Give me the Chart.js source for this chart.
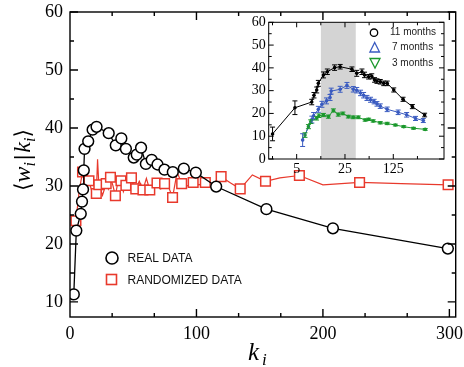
<!DOCTYPE html>
<html><head><meta charset="utf-8">
<script src="https://cdn.jsdelivr.net/npm/chart.js@4/dist/chart.umd.min.js"></script>
<style>
html,body{margin:0;padding:0;background:#fff;}
#wrap{position:relative;width:464px;height:367px;overflow:hidden;}
#main{position:absolute;left:0;top:0;width:464px;height:367px;}
#inset{position:absolute;left:236px;top:10px;width:216px;height:172px;}
</style></head><body>
<div id="wrap">
<canvas id="main" width="464" height="367"></canvas>
<canvas id="inset" width="216" height="172"></canvas>
</div>
<script>
// ---------- main plot data ----------
const realK = [3, 5, 8.5, 9.5, 10.3, 10.9, 11.5, 14.4, 17.9, 21, 30.6, 36.2, 40.6, 44.2, 50.4, 52.8, 56.2, 60, 64.6, 69.2, 74.7, 81.3, 90, 99.5, 115.6, 155.3, 207.9, 298.8];
const realW = [11.3, 22.3, 25.2, 27.3, 29.4, 32.7, 36.4, 37.7, 39.7, 40.2, 39.1, 37.0, 38.2, 36.4, 34.9, 35.4, 36.6, 33.8, 34.5, 33.7, 32.8, 32.4, 33.0, 32.3, 29.9, 26.0, 22.7, 19.2];
const randK = [4.7, 7.3, 9.9, 12.4, 15, 18, 20.8, 21.8, 22.8, 25.7, 28.6, 30.3, 32, 34, 35.9, 38.1, 40.3, 42.2, 44.2, 46.4, 48.6, 50.3, 52, 54.8, 57.7, 60.4, 63.1, 66, 68.8, 71.8, 74.8, 78, 81.1, 84.7, 88.3, 92.8, 97.4, 102, 107, 113, 119.5, 127, 134.6, 144.2, 154.6, 166, 181.4, 200, 229, 262, 299];
const randW = [24.0, 29.2, 32.4, 29.0, 30.9, 28.5, 28.7, 34.6, 30.2, 28.4, 30.4, 29.5, 31.5, 30.0, 28.3, 31.0, 30.9, 29.0, 30.1, 30.5, 31.4, 30.0, 29.5, 30.8, 29.3, 31.3, 29.3, 30.0, 30.5, 29.5, 30.4, 29.8, 28.0, 32.4, 30.4, 30.0, 30.6, 30.2, 30.6, 30.4, 31.6, 30.5, 29.5, 31.9, 30.8, 31.4, 31.8, 30.2, 30.6, 30.4, 30.2];
const mainXTicks = [0, 100, 200, 300];
const mainYTicks = [10, 20, 30, 40, 50, 60];
const mainLegend = ['REAL DATA', 'RANDOMIZED DATA'];

// ---------- inset data ----------
const k11 = [2.24, 4.72, 8.26, 8.9, 9.75, 10.3, 12.2, 13.9, 17.7, 21.3, 31.5, 37, 44, 48, 55, 61, 67, 72.6, 81, 91, 102, 127, 173, 236, 355];
const w11 = [11.0, 22.5, 25.0, 28.0, 30.3, 33.2, 36.9, 38.3, 40.1, 40.5, 39.4, 37.6, 38.3, 36.9, 36.1, 36.3, 34.7, 34.2, 33.9, 33.2, 33.2, 30.3, 26.2, 23.0, 19.3];
const e11 = [3.0, 3.0, 1.2, 1.2, 1.3, 1.3, 1.3, 1.2, 1.2, 1.0, 1.0, 1.3, 1.2, 1.2, 1.0, 1.1, 1.0, 1.0, 1.0, 1.0, 1.0, 0.9, 0.9, 0.9, 0.8];
const k7 = [6.1, 8.3, 8.8, 10.3, 11.6, 13.5, 15.2, 15.8, 21.3, 26.7, 33, 37, 42, 46.5, 52, 58.6, 66, 72.6, 81, 102, 147, 195, 262, 340];
const w7 = [8.3, 17.3, 19.0, 21.8, 24.0, 25.5, 27.0, 29.8, 30.6, 32.3, 30.6, 30.2, 29.0, 28.0, 26.8, 26.0, 25.2, 24.2, 23.2, 21.8, 20.5, 19.4, 17.8, 16.9];
const e7 = [2.8, 1.5, 1.4, 1.3, 1.3, 1.3, 1.3, 1.3, 1.3, 1.3, 1.2, 1.2, 1.2, 1.2, 1.1, 1.1, 1.0, 1.0, 1.0, 1.0, 1.0, 1.0, 0.9, 0.9];
const k3 = [6.6, 7.4, 8.0, 9.7, 10.5, 12.2, 14.4, 17, 20, 23.3, 28, 33, 39, 49, 55, 64, 81, 102, 134, 177, 245, 362];
const w3 = [10.5, 14.2, 16.4, 17.9, 19.0, 19.3, 18.6, 21.3, 19.5, 20.0, 18.6, 18.3, 18.3, 17.1, 17.4, 16.7, 15.9, 15.6, 14.9, 14.2, 13.5, 13.0];
const e3 = [1.0, 0.9, 0.8, 0.8, 0.8, 0.7, 0.7, 0.7, 0.7, 0.6, 0.6, 0.6, 0.6, 0.5, 0.5, 0.5, 0.5, 0.5, 0.4, 0.4, 0.4, 0.4];
const insetXTicks = [5, 25, 125];
const insetXMinor = [2.236, 11.18, 55.9, 279.5];
const insetYTicks = [0, 10, 20, 30, 40, 50, 60];
const shadeRange = [11.2, 35.8];
const insetLegend = ['11 months', '7 months', '3 months'];

const SERIF = '"Liberation Serif", "Times New Roman", serif';
const SANS = '"Liberation Sans", Arial, sans-serif';
const RED = '#e8392c', BLUE = '#3a5bc0', GREEN = '#1b982c';

const pts = (xs, ys) => xs.map((x, i) => ({x, y: ys[i]}));

function frameTicks(chart, xMaj, xMin, yMaj, yMin, majL, minL, lw) {
  const {ctx, chartArea: a, scales} = chart;
  const xs = scales.x, ys = scales.y;
  ctx.save();
  ctx.strokeStyle = '#000';
  ctx.lineWidth = lw;
  ctx.beginPath();
  const tx = (v, L) => { const p = xs.getPixelForValue(v);
    ctx.moveTo(p, a.bottom); ctx.lineTo(p, a.bottom - L);
    ctx.moveTo(p, a.top); ctx.lineTo(p, a.top + L); };
  const ty = (v, L) => { const p = ys.getPixelForValue(v);
    ctx.moveTo(a.left, p); ctx.lineTo(a.left + L, p);
    ctx.moveTo(a.right, p); ctx.lineTo(a.right - L, p); };
  xMaj.forEach(v => tx(v, majL)); xMin.forEach(v => tx(v, minL));
  yMaj.forEach(v => ty(v, majL)); yMin.forEach(v => ty(v, minL));
  ctx.stroke();
  ctx.strokeRect(a.left, a.top, a.right - a.left, a.bottom - a.top);
  ctx.restore();
}

// ---------- main chart ----------
const mainPlugin = {
  id: 'mainDeco',
  afterDraw(chart) {
    const ctx = chart.ctx;
    frameTicks(chart, [100, 200, 300], [100/3, 200/3, 400/3, 500/3, 700/3, 800/3],
      [10, 20, 30, 40, 50, 60], [15, 25, 35, 45, 55], 8, 4, 1.4);
    // legend
    ctx.save();
    ctx.lineWidth = 1.6;
    ctx.strokeStyle = '#000'; ctx.fillStyle = '#fff';
    ctx.beginPath(); ctx.arc(112, 258, 6, 0, Math.PI * 2); ctx.fill(); ctx.stroke();
    ctx.strokeStyle = RED;
    ctx.fillRect(106.5, 274.5, 10, 10); ctx.strokeRect(106.5, 274.5, 10, 10);
    ctx.fillStyle = '#111';
    ctx.font = '12px ' + SANS;
    ctx.textBaseline = 'middle'; ctx.textAlign = 'left';
    ctx.fillText(mainLegend[0], 127.5, 259);
    ctx.fillText(mainLegend[1], 127.5, 281);
    // x title
    ctx.fillStyle = '#000';
    ctx.textBaseline = 'alphabetic';
    ctx.font = 'italic 25px ' + SERIF;
    ctx.fillText('k', 248, 360);
    ctx.font = 'italic 17px ' + SERIF;
    ctx.fillText('i', 262, 365);
    // y title (rotated)
    ctx.translate(30, 191);
    ctx.rotate(-Math.PI / 2);
    let x = 0;
    const put = (t, f, dy) => { ctx.font = f; ctx.fillText(t, x, dy); x += ctx.measureText(t).width; };
    put('\u27E8', '22px ' + SERIF + ', "DejaVu Serif"', 0);
    put('w', 'italic 24px ' + SERIF, 0);
    put('i', 'italic 16px ' + SERIF, 5);
    x += 2;
    put('|', 'bold 24px ' + SERIF, 0);
    x += 2;
    put('k', 'italic 24px ' + SERIF, 0);
    put('i', 'italic 16px ' + SERIF, 5);
    put('\u27E9', '22px ' + SERIF + ', "DejaVu Serif"', 0);
    ctx.restore();
  }
};

new Chart(document.getElementById('main'), {
  type: 'line',
  data: {
    datasets: [
      { label: mainLegend[0], data: pts(realK, realW), borderColor: '#000', borderWidth: 1.3,
        pointStyle: 'circle', pointRadius: 5.4, pointBorderWidth: 1.5, pointBackgroundColor: '#fff',
        pointBorderColor: '#000', tension: 0, order: 0 },
      { label: mainLegend[1], data: pts(randK, randW), borderColor: RED, borderWidth: 1.2,
        pointStyle: 'rect', pointRadius: c => (c.dataIndex % 2 === 0 ? 6.8 : 0),
        pointBorderWidth: 1.5, pointBackgroundColor: '#fff', pointBorderColor: RED, tension: 0, order: 1 }
    ]
  },
  options: {
    responsive: false, animation: false, devicePixelRatio: 1,
    layout: { padding: { left: 0, top: 12, right: 3, bottom: 0 } },
    plugins: { legend: { display: false }, tooltip: { enabled: false } },
    scales: {
      x: { type: 'linear', min: 0, max: 305,
        grid: { display: false, drawTicks: false }, border: { display: false },
        ticks: { font: { family: SERIF, size: 18 }, color: '#000', padding: 6, maxRotation: 0, autoSkip: false },
        afterBuildTicks: s => { s.ticks = mainXTicks.map(v => ({ value: v })); },
        afterFit: s => { s.height = 50; s.paddingLeft = 0; s.paddingRight = 0; } },
      y: { type: 'linear', min: 7.4, max: 60,
        grid: { display: false, drawTicks: false }, border: { display: false },
        ticks: { font: { family: SERIF, size: 18 }, color: '#000', padding: 7, autoSkip: false },
        afterBuildTicks: s => { s.ticks = mainYTicks.map(v => ({ value: v })); },
        afterFit: s => { s.width = 70; s.paddingTop = 0; s.paddingBottom = 0; } }
    }
  },
  plugins: [mainPlugin]
});

// ---------- inset chart ----------
const insetErr = [e11, e7, e3];
const insetPlugin = {
  id: 'insetDeco',
  beforeDatasetsDraw(chart) {
    const { ctx, chartArea: a, scales } = chart;
    const x0 = scales.x.getPixelForValue(shadeRange[0]);
    const x1 = scales.x.getPixelForValue(shadeRange[1]);
    ctx.save();
    ctx.fillStyle = '#d4d4d4';
    ctx.fillRect(x0, a.top, x1 - x0, a.bottom - a.top);
    ctx.restore();
  },
  afterDatasetsDraw(chart) {
    const { ctx, scales } = chart;
    ctx.save();
    chart.data.datasets.forEach((ds, di) => {
      const err = insetErr[di];
      ctx.strokeStyle = ds.borderColor;
      ctx.lineWidth = 1;
      ctx.beginPath();
      ds.data.forEach((p, i) => {
        const px = scales.x.getPixelForValue(p.x);
        const yt = scales.y.getPixelForValue(p.y + err[i]);
        const yb = scales.y.getPixelForValue(p.y - err[i]);
        ctx.moveTo(px, yt); ctx.lineTo(px, yb);
        ctx.moveTo(px - 2.5, yt); ctx.lineTo(px + 2.5, yt);
        ctx.moveTo(px - 2.5, yb); ctx.lineTo(px + 2.5, yb);
      });
      ctx.stroke();
    });
    ctx.restore();
  },
  afterDraw(chart) {
    const ctx = chart.ctx;
    frameTicks(chart, insetXTicks, insetXMinor, insetYTicks, [5, 15, 25, 35, 45, 55], 5, 3, 1);
    ctx.save();
    ctx.lineWidth = 1.3;
    ctx.strokeStyle = '#000';
    ctx.beginPath(); ctx.arc(138, 22.7, 3.7, 0, Math.PI * 2); ctx.stroke();
    ctx.strokeStyle = BLUE;
    ctx.beginPath(); ctx.moveTo(138.7, 32.5); ctx.lineTo(143.5, 42); ctx.lineTo(133.9, 42); ctx.closePath(); ctx.stroke();
    ctx.strokeStyle = GREEN;
    ctx.beginPath(); ctx.moveTo(134, 48.5); ctx.lineTo(144, 48.5); ctx.lineTo(139, 58); ctx.closePath(); ctx.stroke();
    ctx.fillStyle = '#222';
    ctx.font = '10px ' + SANS;
    ctx.textBaseline = 'middle'; ctx.textAlign = 'left';
    ctx.fillText(insetLegend[0], 154, 22.7);
    ctx.fillText(insetLegend[1], 156, 37.3);
    ctx.fillText(insetLegend[2], 156, 53.3);
    ctx.restore();
  }
};

const insetDs = (lbl, xs, ys, col) => ({ label: lbl, data: pts(xs, ys), borderColor: col, borderWidth: 1,
  pointRadius: 1.8, pointBackgroundColor: col, pointBorderColor: col, pointBorderWidth: 0, tension: 0 });

new Chart(document.getElementById('inset'), {
  type: 'line',
  data: { datasets: [
    insetDs(insetLegend[0], k11, w11, '#000'),
    insetDs(insetLegend[1], k7, w7, BLUE),
    insetDs(insetLegend[2], k3, w3, GREEN)
  ] },
  options: {
    responsive: false, animation: false, devicePixelRatio: 1,
    layout: { padding: { left: 0, top: 12.3, right: 8, bottom: 0 } },
    plugins: { legend: { display: false }, tooltip: { enabled: false } },
    scales: {
      x: { type: 'logarithmic', min: 1.97, max: 677,
        grid: { display: false, drawTicks: false }, border: { display: false },
        ticks: { font: { family: SERIF, size: 14 }, color: '#000', padding: 2, maxRotation: 0, autoSkip: false,
          callback: v => String(v) },
        afterBuildTicks: s => { s.ticks = insetXTicks.map(v => ({ value: v })); },
        afterFit: s => { s.height = 23; s.paddingLeft = 0; s.paddingRight = 0; } },
      y: { type: 'linear', min: 0, max: 60,
        grid: { display: false, drawTicks: false }, border: { display: false },
        ticks: { font: { family: SERIF, size: 14 }, color: '#000', padding: 3, autoSkip: false },
        afterBuildTicks: s => { s.ticks = insetYTicks.map(v => ({ value: v })); },
        afterFit: s => { s.width = 32.7; s.paddingTop = 0; s.paddingBottom = 0; } }
    }
  },
  plugins: [insetPlugin]
});
</script>
</body></html>
